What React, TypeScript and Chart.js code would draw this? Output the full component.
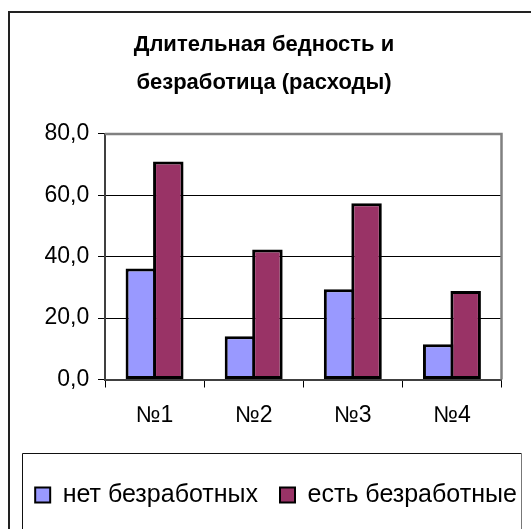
import React, { useEffect, useRef } from 'react';
import { Chart, registerables } from 'chart.js';

Chart.register(...registerables);

const titleLines = ['Длительная бедность и', 'безработица (расходы)'];
const categories = ['№1', '№2', '№3', '№4'];
const seriesNames = ['нет безработных', 'есть безработные'];
const noUnemployed = [36.2, 14.1, 29.4, 11.5];
const withUnemployed = [71.0, 42.4, 57.4, 28.8];
const yTickValues = [0, 20, 40, 60, 80];

const FONT = '"Liberation Sans", Arial, sans-serif';
const LEGEND_DX = 12;

export default function App() {
  const ref = useRef<HTMLCanvasElement | null>(null);

  useEffect(() => {
    if (!ref.current) return;
    Chart.defaults.font.family = FONT;
    Chart.defaults.color = '#000';

    const framePlugin = {
      id: 'frames',
      beforeDraw(chart: any) {
        const lg = chart.legend;
        if (lg && !lg.__wrapped) {
          const orig = lg.draw.bind(lg);
          lg.draw = function (...args: any[]) {
            const c = chart.ctx;
            c.save();
            c.translate(LEGEND_DX, 0);
            orig(...args);
            c.restore();
          };
          lg.__wrapped = true;
        }
      },
      afterDraw(chart: any) {
        const { ctx, chartArea: a } = chart;
        ctx.save();
        // plot area top & right border
        ctx.strokeStyle = '#808080';
        ctx.lineWidth = 2.5;
        ctx.beginPath();
        ctx.moveTo(a.left, a.top);
        ctx.lineTo(a.right, a.top);
        ctx.lineTo(a.right, a.bottom);
        ctx.stroke();
        // outer frame
        ctx.strokeStyle = '#222';
        ctx.lineWidth = 2;
        ctx.beginPath();
        ctx.moveTo(9, 540);
        ctx.lineTo(9, 12);
        ctx.lineTo(540, 12);
        ctx.stroke();
        // legend frame
        ctx.lineWidth = 1;
        ctx.strokeStyle = '#111';
        ctx.beginPath();
        ctx.moveTo(22.5, 540);
        ctx.lineTo(22.5, 453.5);
        ctx.lineTo(521.5, 453.5);
        ctx.stroke();
        ctx.strokeStyle = '#777';
        ctx.beginPath();
        ctx.moveTo(521.5, 453.5);
        ctx.lineTo(521.5, 540);
        ctx.stroke();
        ctx.restore();
      },
    };

    const chart = new Chart(ref.current, {
      type: 'bar',
      data: {
        labels: categories,
        datasets: [
          {
            label: seriesNames[0],
            data: noUnemployed,
            backgroundColor: '#9999FF',
            borderColor: '#000',
            borderWidth: 3,
            borderSkipped: false,
            yAxisID: 'y',
          },
          {
            label: seriesNames[1],
            data: withUnemployed,
            backgroundColor: '#993366',
            borderColor: '#000',
            borderWidth: 3,
            borderSkipped: false,
            yAxisID: 'y',
          },
        ],
      },
      options: {
        responsive: false,
        animation: false,
        devicePixelRatio: 1,
        categoryPercentage: 0.5545,
        barPercentage: 1.109,
        layout: { padding: { left: 0, right: 3, top: 0, bottom: 11.5 } },
        plugins: {
          tooltip: { enabled: false },
          title: {
            display: true,
            text: titleLines,
            color: '#000',
            font: { size: 22, weight: 'bold', family: FONT, lineHeight: 1.736 },
            padding: { top: 25.9, bottom: 31.7 },
          },
          legend: {
            display: true,
            position: 'bottom',
            labels: {
              color: '#000',
              font: { size: 25, family: FONT },
              boxWidth: 15,
              boxHeight: 15,
              padding: 22,
              generateLabels: (ch: any) =>
                Chart.defaults.plugins.legend.labels
                  .generateLabels(ch)
                  .map((l: any) => ({ ...l, lineWidth: 2 })),
            },
          },
        },
        scales: {
          x: {
            type: 'category',
            grid: {
              offset: true,
              drawOnChartArea: false,
              drawTicks: true,
              tickLength: 8,
              color: '#000',
            },
            border: { display: true, color: '#404040', width: 2 },
            ticks: { padding: 14.7, color: '#000', font: { size: 23, family: FONT } },
            afterFit: (s: any) => {
              s.height = 81;
            },
          },
          y: {
            type: 'linear',
            position: 'left',
            min: 0,
            max: 80,
            afterBuildTicks: (s: any) => {
              s.ticks = yTickValues.map((v) => ({ value: v }));
            },
            grid: {
              color: (c: any) =>
                c.tick && (c.tick.value === 0 || c.tick.value === 80) ? 'rgba(0,0,0,0)' : '#000',
              tickColor: '#000',
              tickLength: 7,
              lineWidth: 1,
            },
            border: { display: true, color: '#404040', width: 2 },
            ticks: {
              padding: 8.7,
              color: '#000',
              font: { size: 23, family: FONT },
              callback: (v: any) => Number(v).toFixed(1).replace('.', ','),
            },
            afterFit: (s: any) => {
              s.width = 105;
            },
          },
          yR: {
            type: 'linear',
            position: 'right',
            display: true,
            grid: { display: false, drawTicks: false },
            border: { display: false },
            ticks: { display: false },
            afterFit: (s: any) => {
              s.width = 26.5;
            },
          },
        },
      },
      plugins: [framePlugin],
    } as any);

    return () => chart.destroy();
  }, []);

  return (
    <div style={{ position: 'absolute', left: 0, top: 0, width: 531, height: 529, background: '#fff' }}>
      <canvas ref={ref} width={531} height={529} style={{ display: 'block' }} />
    </div>
  );
}
